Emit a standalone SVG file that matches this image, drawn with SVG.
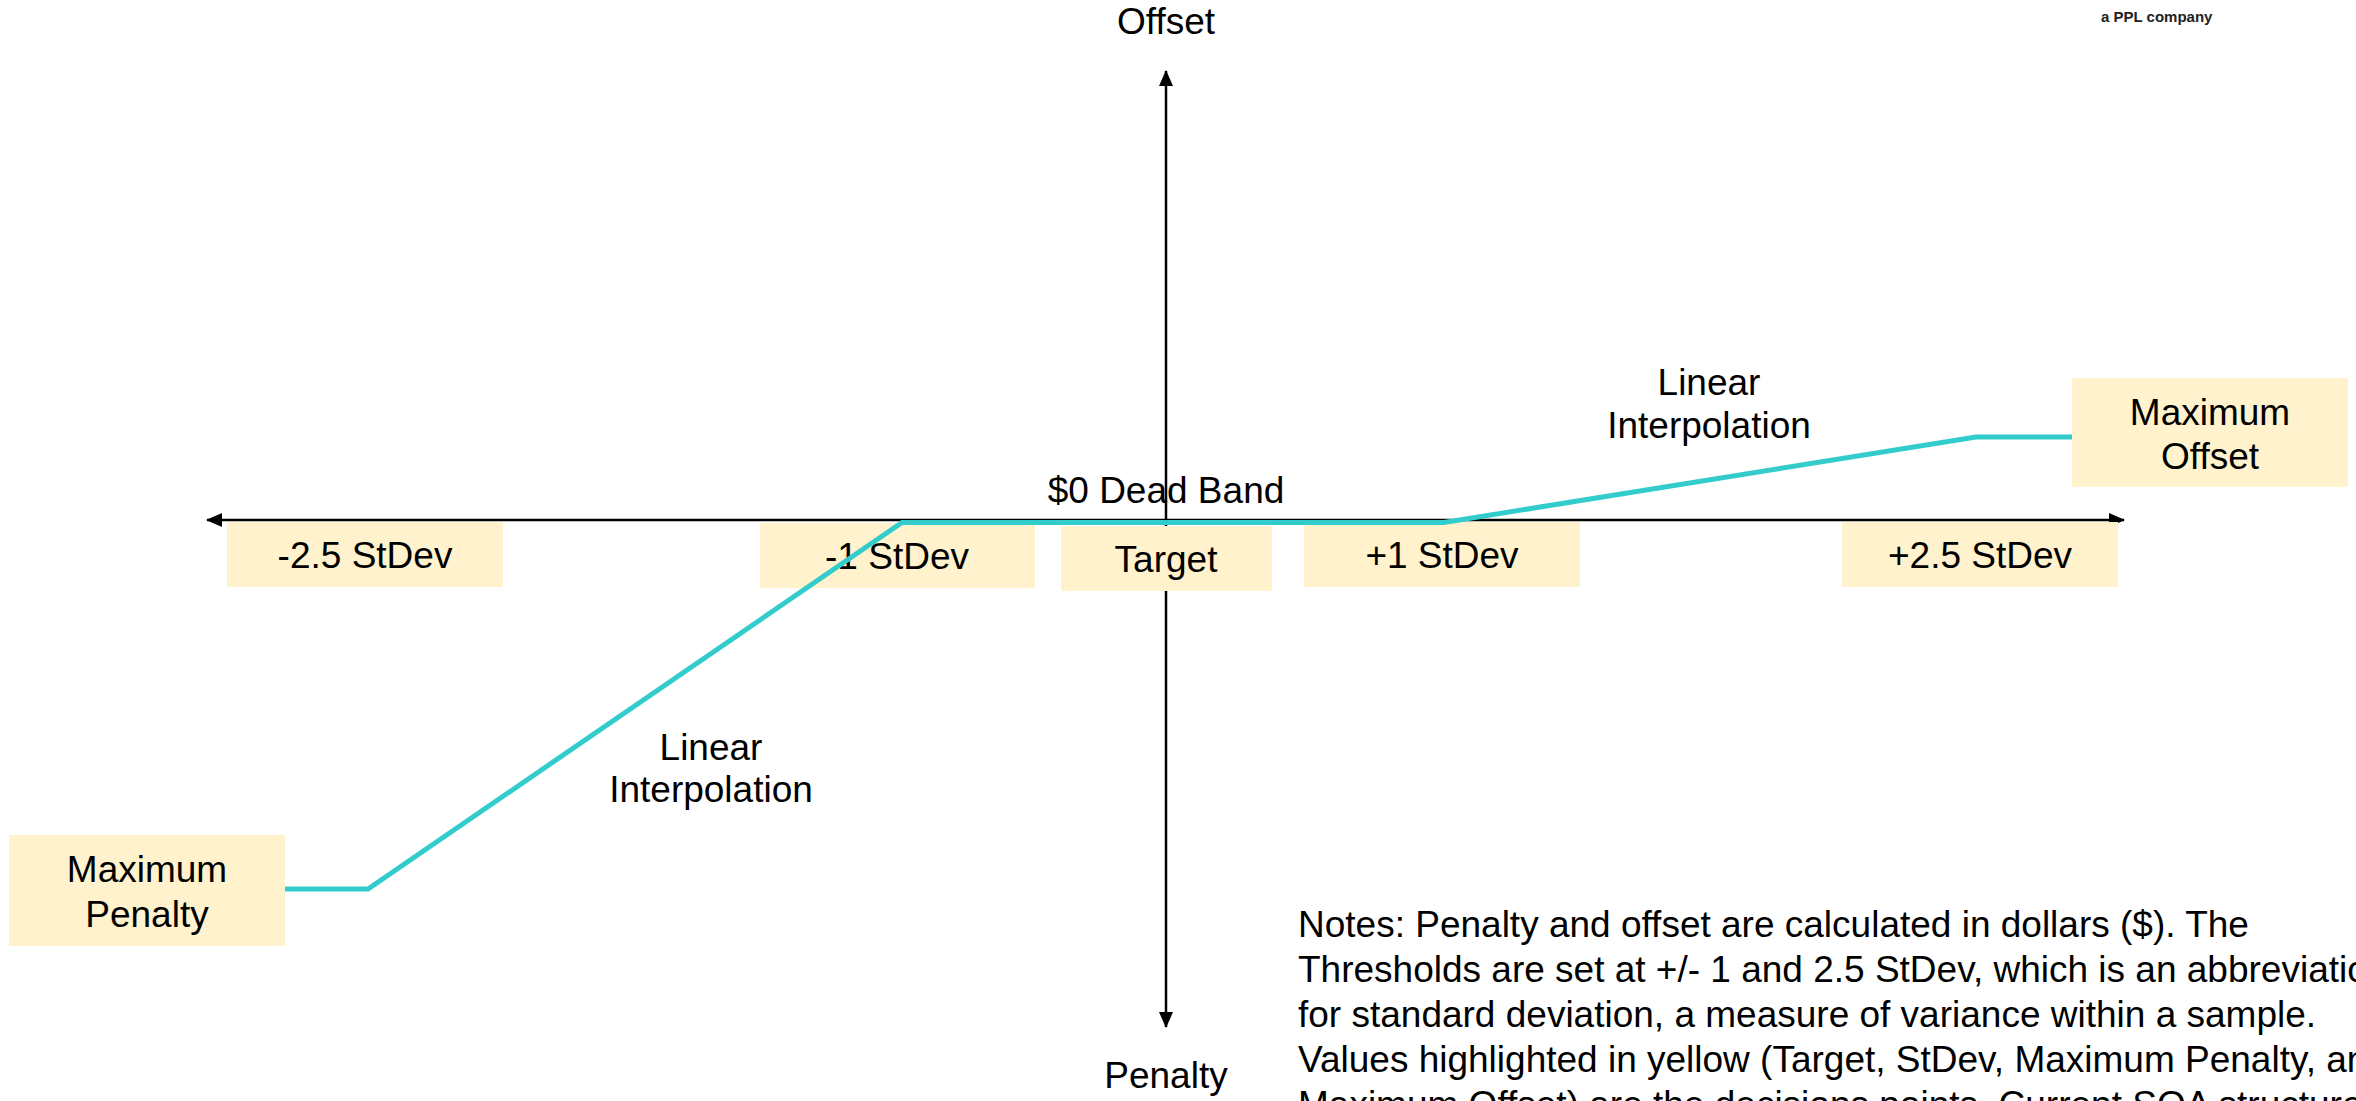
<svg xmlns="http://www.w3.org/2000/svg" width="2356" height="1101" viewBox="0 0 2356 1101">
  <style>
    text { font-family: "Liberation Sans", Arial, sans-serif; font-size: 37px; fill: #000; }
    .c { text-anchor: middle; }
    .box { fill: #FFF2CC; }
    .axis { stroke: #000; stroke-width: 2.5; fill: none; }
    .curve { stroke: #33CCCC; stroke-width: 5; fill: none; stroke-linejoin: miter; }
    .brand { font-size: 15px; font-weight: bold; fill: #222; }
  </style>
  <defs>
    <marker id="arrow" viewBox="0 0 16 14" refX="15" refY="7" markerWidth="16" markerHeight="14" markerUnits="userSpaceOnUse" orient="auto-start-reverse">
      <path d="M0,0 L16,7 L0,14 Z" fill="#000"/>
    </marker>
  </defs>
  <rect width="2356" height="1101" fill="#fff"/>

  <g id="axes">
    <line class="axis" x1="207" y1="520" x2="2124" y2="520" marker-start="url(#arrow)" marker-end="url(#arrow)"/>
    <line class="axis" x1="1166" y1="71" x2="1166" y2="1027" marker-start="url(#arrow)" marker-end="url(#arrow)"/>
  </g>

  <g id="label-offset"><text class="c" x="1166" y="34">Offset</text></g>
  <g id="label-penalty"><text class="c" x="1166" y="1088">Penalty</text></g>
  <g id="label-deadband"><text class="c" x="1166" y="503">$0 Dead Band</text></g>
  <g id="brand"><text class="brand" x="2101" y="22">a PPL company</text></g>

  <g id="node-minus25">
    <rect class="box" x="227" y="522" width="276" height="65"/>
    <text class="c" x="365" y="568">-2.5 StDev</text>
  </g>
  <g id="node-minus1">
    <rect class="box" x="760" y="523" width="275" height="65"/>
    <text class="c" x="897" y="569">-1 StDev</text>
  </g>
  <g id="node-target">
    <rect class="box" x="1061" y="526" width="211" height="65"/>
    <text class="c" x="1166" y="572">Target</text>
  </g>
  <g id="node-plus1">
    <rect class="box" x="1304" y="522" width="276" height="65"/>
    <text class="c" x="1442" y="568">+1 StDev</text>
  </g>
  <g id="node-plus25">
    <rect class="box" x="1842" y="522" width="276" height="65"/>
    <text class="c" x="1980" y="568">+2.5 StDev</text>
  </g>
  <g id="node-maxoffset">
    <rect class="box" x="2072" y="378" width="276" height="109"/>
    <text class="c" x="2210" y="425">Maximum</text>
    <text class="c" x="2210" y="469">Offset</text>
  </g>
  <g id="node-maxpenalty">
    <rect class="box" x="9" y="835" width="276" height="111"/>
    <text class="c" x="147" y="882">Maximum</text>
    <text class="c" x="147" y="927">Penalty</text>
  </g>

  <g id="label-interp-right">
    <text class="c" x="1709" y="395">Linear</text>
    <text class="c" x="1709" y="438">Interpolation</text>
  </g>
  <g id="label-interp-left">
    <text class="c" x="711" y="760">Linear</text>
    <text class="c" x="711" y="802">Interpolation</text>
  </g>

  <g id="connectors">
    <polyline class="curve" points="285,889 368,889 902,522.5 1444,522.5 1976,437 2072,437"/>
  </g>

  <g id="notes">
    <text x="1298" y="937">Notes: Penalty and offset are calculated in dollars ($). The</text>
    <text x="1298" y="982">Thresholds are set at +/- 1 and 2.5 StDev, which is an abbreviation</text>
    <text x="1298" y="1027">for standard deviation, a measure of variance within a sample.</text>
    <text x="1298" y="1072">Values highlighted in yellow (Target, StDev, Maximum Penalty, and</text>
    <text x="1298" y="1117">Maximum Offset) are the decisions points. Current SOA structure</text>
  </g>
</svg>
